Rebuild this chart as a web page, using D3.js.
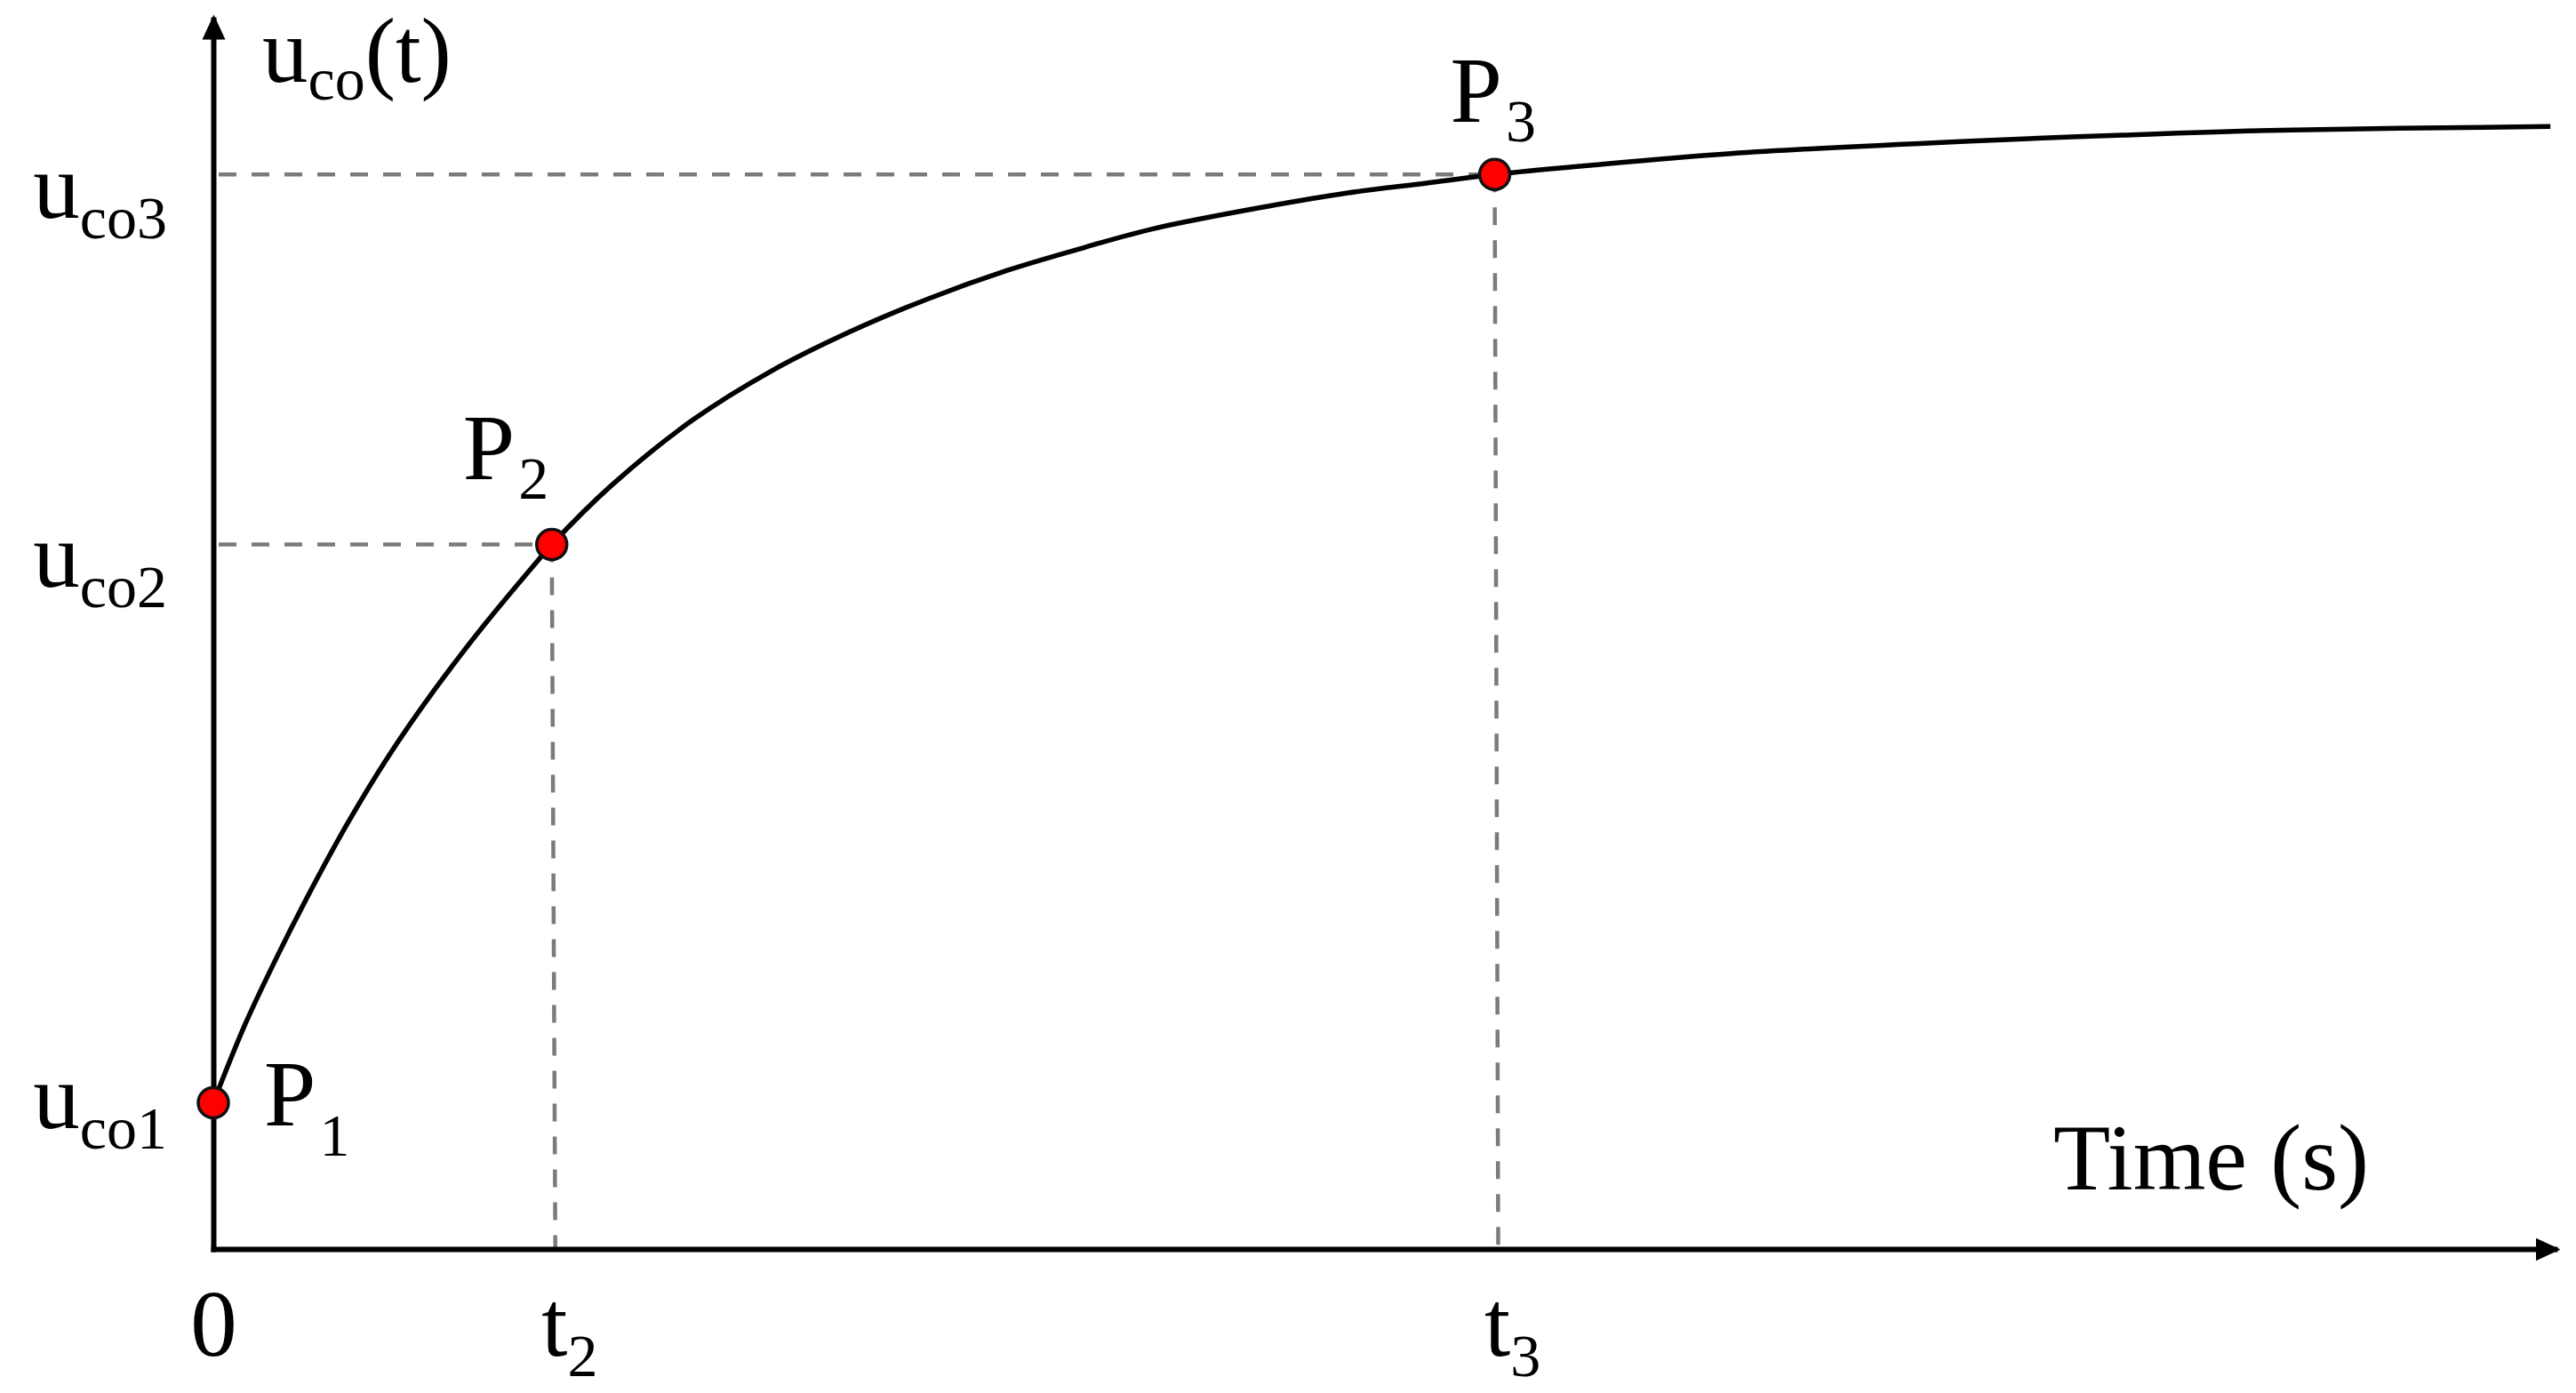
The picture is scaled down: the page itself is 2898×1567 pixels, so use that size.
<!DOCTYPE html>
<html>
<head>
<meta charset="utf-8">
<script src="https://cdn.jsdelivr.net/npm/d3@7"></script>
<style>
html, body { margin: 0; padding: 0; background: #fff; }
svg text { font-family: "Liberation Serif", "Times New Roman", serif; fill: #000; }
</style>
</head>
<body>
<div id="chart"></div>
<script>
// curve (time in arbitrary units, u_co in arbitrary units)
var timeValues = [0, 0.15, 0.30, 0.45, 0.63, 0.82, 1.04, 1.27, 1.51, 1.59, 1.87, 2.25, 2.62, 2.99,
                  3.36, 3.73, 4.10, 4.42, 4.95, 5.33, 5.70, 6.02, 6.44, 7.13, 8.23, 8.97, 9.71, 10.98];
var ucoValues = [1.19, 1.83, 2.38, 2.89, 3.46, 4.00, 4.55, 5.07, 5.57, 5.73, 6.21, 6.74, 7.14, 7.46,
                 7.73, 7.96, 8.15, 8.30, 8.48, 8.59, 8.67, 8.74, 8.81, 8.91, 9.01, 9.06, 9.10, 9.13];

var pointNames = ["1", "2", "3"];
var pointTimes = [0, 1.59, 6.02];
var pointValues = [1.19, 5.73, 8.74];

var xTickLabels = [["0", ""], ["t", "2"], ["t", "3"]];
var yTickLabels = [["u", "co1"], ["u", "co2"], ["u", "co3"]];

var width = 2898, height = 1567;
var mainSize = 105, subSize = 68;

var x = d3.scaleLinear().domain([0, 11]).range([240, 2874]);
var y = d3.scaleLinear().domain([0, 10]).range([1405, 22]);

var svg = d3.select("#chart").append("svg")
            .attr("width", width)
            .attr("height", height)
            .style("display", "block")
            .style("background", "#fff");

svg.append("defs").append("marker")
    .attr("id", "arrow")
    .attr("markerUnits", "userSpaceOnUse")
    .attr("viewBox", "0 -16 32 32")
    .attr("markerWidth", 32)
    .attr("markerHeight", 32)
    .attr("refX", 22)
    .attr("refY", 0)
    .attr("orient", "auto")
    .append("path")
    .attr("d", "M0,-13L28,0L0,13Z")
    .attr("fill", "#000");

var points = pointTimes.map(function(t, i) {
    return { name: pointNames[i], t: t, u: pointValues[i] };
});

// dashed guide lines
var guides = svg.append("g")
    .attr("stroke", "#7b7b7b")
    .attr("stroke-width", 4.5)
    .attr("stroke-dasharray", "20,17")
    .attr("fill", "none");

points.slice(1).forEach(function(p) {
    guides.append("line")
        .attr("x1", x(0) + 6).attr("y1", y(p.u))
        .attr("x2", x(p.t)).attr("y2", y(p.u));
    guides.append("line")
        .attr("x1", x(p.t)).attr("y1", y(p.u))
        .attr("x2", x(p.t) + 4).attr("y2", y(0));
});

// axes
var xAxis = d3.axisBottom(x).tickValues(pointTimes).tickSize(0).tickSizeOuter(0).tickFormat("");
var yAxis = d3.axisLeft(y).tickValues(pointValues).tickSize(0).tickSizeOuter(0).tickFormat("");

var gx = svg.append("g").attr("transform", "translate(0," + y(0) + ")").call(xAxis);
var gy = svg.append("g").attr("transform", "translate(" + x(0) + ",0)").call(yAxis);

[gx, gy].forEach(function(g) {
    g.select(".domain")
        .attr("stroke", "#000")
        .attr("stroke-width", 6)
        .attr("stroke-linecap", "square")
        .attr("marker-end", "url(#arrow)");
    g.selectAll(".tick text").remove();
    g.selectAll(".tick line").remove();
});

gx.selectAll(".tick").each(function(d, i) {
    var lab = xTickLabels[i];
    var txt = d3.select(this).append("text")
        .attr("y", 120)
        .attr("font-size", mainSize);
    if (lab[1] === "") {
        txt.attr("text-anchor", "middle").text(lab[0]);
    } else {
        txt.attr("x", -12).attr("text-anchor", "start");
        txt.append("tspan").text(lab[0]);
        txt.append("tspan").text(lab[1]).attr("font-size", subSize).attr("dy", 23);
    }
});

var yLabelShift = [28, 47, 48];
gy.selectAll(".tick").each(function(d, i) {
    var lab = yTickLabels[i];
    var txt = d3.select(this).append("text")
        .attr("x", -52)
        .attr("y", yLabelShift[i])
        .attr("text-anchor", "end")
        .attr("font-size", mainSize);
    txt.append("tspan").text(lab[0]);
    txt.append("tspan").text(lab[1]).attr("font-size", subSize).attr("dy", 23);
});

// axis titles
var yTitle = svg.append("text")
    .attr("x", x(0) + 55)
    .attr("y", 92)
    .attr("font-size", 103);
yTitle.append("tspan").text("u");
yTitle.append("tspan").text("co").attr("font-size", subSize).attr("dy", 20);
yTitle.append("tspan").text("(t)").attr("dy", -20);

svg.append("text")
    .attr("x", 2665)
    .attr("y", 1338)
    .attr("text-anchor", "end")
    .attr("font-size", mainSize)
    .text("Time (s)");

// response curve
var line = d3.line()
    .curve(d3.curveCatmullRom.alpha(0.5))
    .x(function(d) { return x(d); })
    .y(function(d, i) { return y(ucoValues[i]); });

svg.append("path")
    .datum(timeValues)
    .attr("d", line)
    .attr("fill", "none")
    .attr("stroke", "#000")
    .attr("stroke-width", 5.5);

// points and labels
svg.append("g").selectAll("circle")
    .data(points)
    .enter().append("circle")
    .attr("cx", function(d) { return x(d.t); })
    .attr("cy", function(d) { return y(d.u); })
    .attr("r", 17)
    .attr("fill", "#ff0000")
    .attr("stroke", "#111")
    .attr("stroke-width", 3.5);

var labelOffsets = [[57, 26, 34], [-100, -74, 22], [-50, -59, 22]];
svg.append("g").selectAll("text")
    .data(points)
    .enter().append("text")
    .attr("x", function(d, i) { return x(d.t) + labelOffsets[i][0]; })
    .attr("y", function(d, i) { return y(d.u) + labelOffsets[i][1]; })
    .attr("font-size", mainSize)
    .each(function(d, i) {
        var t = d3.select(this);
        t.append("tspan").text("P");
        t.append("tspan").text(d.name).attr("font-size", subSize).attr("dy", labelOffsets[i][2]).attr("dx", 4);
    });
</script>
</body>
</html>
